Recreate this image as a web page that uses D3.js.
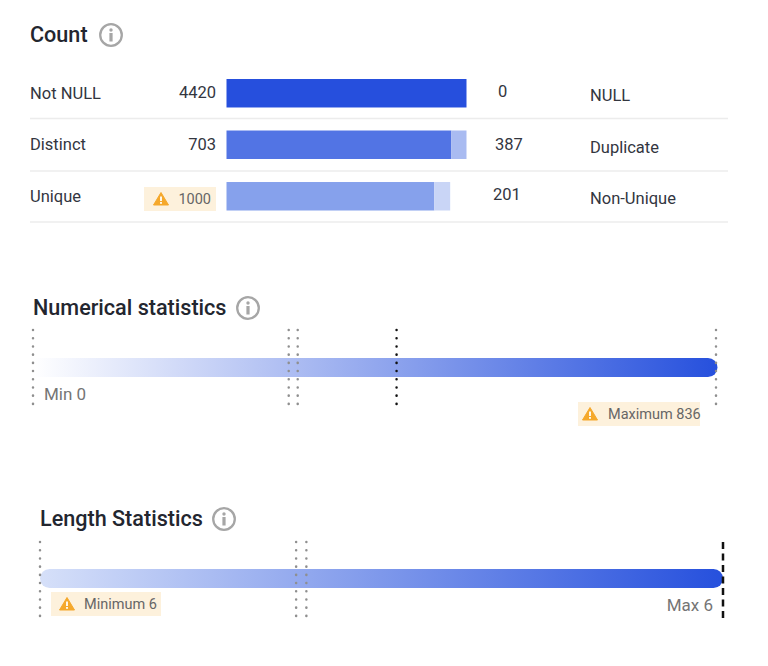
<!DOCTYPE html>
<html>
<head>
<meta charset="utf-8">
<script src="https://cdn.jsdelivr.net/npm/d3@7"></script>
<style>
  html, body { margin: 0; padding: 0; background: #fff; }
  text { font-family: Roboto, sans-serif; }
</style>
</head>
<body>
<div id="chart"></div>
<script>
// count panel, bar lengths are read as % of the full bar
const leftLabels = ["Not NULL", "Distinct", "Unique"];
const leftValues = ["4420", "703", "1000"];
const rightLabels = ["NULL", "Duplicate", "Non-Unique"];
const rightValues = ["0", "387", "201"];
const mainShare = [100, 93.7, 86.6];
const restShare = [0, 6.3, 6.6];

// stats panels, marker positions in data units
const numMarkers = [0, 313, 324, 445, 836];
const numMarkerKinds = ["grey", "grey", "grey", "black", "grey"];
const lenMarkers = [0, 37.5, 39, 100];
const lenMarkerKinds = ["grey", "grey", "grey", "dash"];

const svg = d3.select("#chart").append("svg")
    .attr("width", 768)
    .attr("height", 666)
    .style("display", "block");

const defs = svg.append("defs");

function addGradient(id, from, to) {
    const g = defs.append("linearGradient").attr("id", id);
    g.append("stop").attr("offset", "0%").attr("stop-color", from);
    g.append("stop").attr("offset", "100%").attr("stop-color", to);
}
addGradient("numGrad", "#ffffff", "#2650dd");
addGradient("lenGrad", "#d6e0f9", "#2650dd");

function title(x, y, str) {
    svg.append("text")
        .attr("x", x).attr("y", y)
        .attr("font-size", 21.6).attr("font-weight", 500)
        .attr("fill", "#23262f")
        .text(str);
}

function infoIcon(cx, cy) {
    const g = svg.append("g").attr("transform", `translate(${cx},${cy})`);
    g.append("circle").attr("r", 10.8).attr("fill", "none").attr("stroke", "#a6a6a6").attr("stroke-width", 2.3);
    g.append("circle").attr("cy", -5).attr("r", 1.7).attr("fill", "#a6a6a6");
    g.append("rect").attr("x", -1.6).attr("y", -2).attr("width", 3.2).attr("height", 8.5).attr("fill", "#a6a6a6");
}

function warnBadge(x, y, w, h, triX, textX, str, anchor) {
    svg.append("rect").attr("x", x).attr("y", y).attr("width", w).attr("height", h).attr("fill", "#fdf1dc");
    const cy = y + h / 2;
    const g = svg.append("g").attr("transform", `translate(${triX},${cy})`);
    g.append("path").attr("d", "M0,-6.5L7.5,6L-7.5,6Z")
        .attr("fill", "#f5a82b").attr("stroke", "#f5a82b").attr("stroke-width", 1).attr("stroke-linejoin", "round");
    g.append("rect").attr("x", -0.9).attr("y", -2.5).attr("width", 1.8).attr("height", 4.5).attr("fill", "#fff");
    g.append("rect").attr("x", -0.9).attr("y", 3).attr("width", 1.8).attr("height", 1.8).attr("fill", "#fff");
    svg.append("text")
        .attr("x", textX).attr("y", cy + 5)
        .attr("text-anchor", anchor)
        .attr("font-size", 14.5)
        .attr("fill", "#666")
        .text(str);
}

// ---- Count ----
title(30, 42, "Count");
infoIcon(111, 35);

const x = d3.scaleLinear().domain([0, 100]).range([226.5, 466.5]);
const y = d3.scaleBand().domain(leftLabels).range([79, 210.5]).paddingInner(0.447).paddingOuter(0);
const barColors = ["#264fdd", "#5274e4", "#86a1ec"];
const restColors = ["#a9bbf1", "#a9bbf1", "#c9d5f6"];

const rowText = [
    {left: 99, num: 98, rVal: 97, rLab: 101, rx: 498},
    {left: 150, num: 150, rVal: 150, rLab: 153, rx: 495},
    {left: 202, num: 203, rVal: 200, rLab: 204, rx: 493}
];
const sepY = [118.5, 171, 222];

svg.selectAll(".sep").data(sepY).enter().append("line")
    .attr("x1", 30).attr("x2", 728)
    .attr("y1", d => d).attr("y2", d => d)
    .attr("stroke", "#ececec").attr("stroke-width", 1.5);

leftLabels.forEach((name, i) => {
    const t = rowText[i];
    const top = y(name);
    svg.append("rect")
        .attr("x", x(0)).attr("y", top)
        .attr("width", x(mainShare[i]) - x(0)).attr("height", y.bandwidth())
        .attr("fill", barColors[i]);
    if (restShare[i] > 0) {
        svg.append("rect")
            .attr("x", x(mainShare[i])).attr("y", top)
            .attr("width", x(mainShare[i] + restShare[i]) - x(mainShare[i])).attr("height", y.bandwidth())
            .attr("fill", restColors[i]);
    }
    svg.append("text").attr("x", 30).attr("y", t.left)
        .attr("font-size", 16.5).attr("fill", "#33363f").text(name);
    svg.append("text").attr("x", 590).attr("y", t.rLab)
        .attr("font-size", 16.5).attr("fill", "#33363f").text(rightLabels[i]);
    svg.append("text").attr("x", t.rx).attr("y", t.rVal)
        .attr("font-size", 16.5).attr("fill", "#33363f").text(rightValues[i]);
    if (i < 2) {
        svg.append("text").attr("x", 216).attr("y", t.num)
            .attr("text-anchor", "end")
            .attr("font-size", 16.5).attr("fill", "#33363f").text(leftValues[i]);
    }
});
warnBadge(144, 187, 72, 24, 161, 211, leftValues[2], "end");

// ---- stats bars ----
function statsBar(opts) {
    const sx = d3.scaleLinear().domain(opts.domain).range(opts.range);
    const x0 = opts.range[0], x1 = opts.range[1] + opts.overhang;
    const r = 9.5, top = opts.barY, h = opts.barH;
    const d = d3.path();
    if (opts.roundLeft) {
        d.moveTo(x0 + r, top);
    } else {
        d.moveTo(x0, top);
    }
    d.lineTo(x1 - r, top);
    d.arcTo(x1, top, x1, top + r, r);
    d.arcTo(x1, top + h, x1 - r, top + h, r);
    if (opts.roundLeft) {
        d.lineTo(x0 + r, top + h);
        d.arcTo(x0, top + h, x0, top + r, r);
        d.arcTo(x0, top, x0 + r, top, r);
    } else {
        d.lineTo(x0, top + h);
    }
    d.closePath();
    svg.append("path").attr("d", d.toString()).attr("fill", `url(#${opts.grad})`);

    svg.selectAll(null).data(opts.markers).enter().append("line")
        .attr("x1", v => sx(v)).attr("x2", v => sx(v))
        .attr("y1", opts.lineY[0]).attr("y2", opts.lineY[1])
        .attr("stroke", (v, i) => opts.kinds[i] === "grey" ? "#8f8f8f" : "#111")
        .attr("stroke-width", 2.5)
        .attr("stroke-linecap", (v, i) => opts.kinds[i] === "dash" ? "butt" : "round")
        .attr("stroke-dasharray", (v, i) => opts.kinds[i] === "dash" ? "7 4.5" : "0.1 8.1");
}

title(33, 315, "Numerical statistics");
infoIcon(248, 308);
statsBar({
    domain: [0, 836], range: [33, 716], overhang: 1.5, barY: 358, barH: 19,
    grad: "numGrad", roundLeft: false,
    markers: numMarkers, kinds: numMarkerKinds, lineY: [330, 406]
});
svg.append("text").attr("x", 44).attr("y", 400)
    .attr("font-size", 17).attr("fill", "#757575").text("Min 0");
warnBadge(578, 402, 122, 24, 590, 608, "Maximum 836", "start");

title(40, 526, "Length Statistics");
infoIcon(224, 519);
statsBar({
    domain: [0, 100], range: [40, 723], overhang: 0, barY: 569, barH: 19,
    grad: "lenGrad", roundLeft: true,
    markers: lenMarkers, kinds: lenMarkerKinds, lineY: [542, 618]
});
warnBadge(51, 592, 110, 24, 67, 84, "Minimum 6", "start");
svg.append("text").attr("x", 713).attr("y", 611)
    .attr("text-anchor", "end")
    .attr("font-size", 17).attr("fill", "#757575").text("Max 6");
</script>
</body>
</html>
